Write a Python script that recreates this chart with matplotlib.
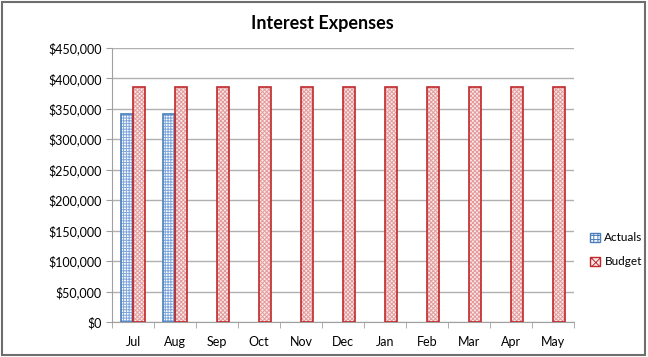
import numpy as np
import matplotlib.pyplot as plt
from matplotlib.patches import Rectangle, Patch
from matplotlib.ticker import FuncFormatter, MultipleLocator

plt.rcParams['font.family'] = ['Lato', 'DejaVu Sans']
plt.rcParams['hatch.linewidth'] = 0.7

months = ['Jul', 'Aug', 'Sep', 'Oct', 'Nov', 'Dec', 'Jan', 'Feb', 'Mar', 'Apr', 'May']
actuals = [342000, 342000, 0, 0, 0, 0, 0, 0, 0, 0, 0]
budget = [385000] * 11

fig = plt.figure(figsize=(6.48, 3.57), dpi=100)
ax = fig.add_axes([0.173, 0.098, 0.713, 0.768])

x = np.arange(len(months))
w = 0.29
act_x = [xi - w / 2 for xi, v in zip(x, actuals) if v > 0]
act_v = [v for v in actuals if v > 0]

# hatched fill, then a solid outline on top
ax.bar(act_x, act_v, w, facecolor='white', edgecolor='#7fa6dc',
       hatch='++++++', linewidth=0, zorder=3)
ax.bar(act_x, act_v, w, fill=False, edgecolor='#4a7ebb', linewidth=1.2, zorder=4)
ax.bar(x + w / 2, budget, w, facecolor='#fbeaea', edgecolor='#e39a9a',
       hatch='xxxxxxxx', linewidth=0, zorder=3)
ax.bar(x + w / 2, budget, w, fill=False, edgecolor='#c0282a', linewidth=1.2, zorder=4)

ax.set_xlim(-0.5, len(months) - 0.5)
ax.set_ylim(0, 450000)
ax.yaxis.set_major_locator(MultipleLocator(50000))
ax.yaxis.set_major_formatter(FuncFormatter(lambda v, p: '${:,.0f}'.format(v)))
ax.grid(axis='y', color='#b0b0b0', linewidth=1.0, zorder=0)
ax.set_axisbelow(True)

ax.set_xticks(x)
ax.set_xticklabels(months)
ax.set_xticks(np.arange(-0.5, len(months)), minor=True)
ax.tick_params(axis='x', which='major', length=0, pad=10, labelsize=9)
ax.tick_params(axis='x', which='minor', length=4, color='#a0a0a0')
ax.tick_params(axis='y', length=4, color='#a0a0a0', labelsize=9)

for s in ['top', 'right']:
    ax.spines[s].set_visible(False)
ax.spines['left'].set_color('#a0a0a0')
ax.spines['bottom'].set_color('#a0a0a0')

fig.text(0.497, 0.935, 'Interest Expenses', ha='center', va='center',
         fontsize=13, fontweight='bold')

handles = [Patch(facecolor='white', edgecolor='#4a7ebb', hatch='++++', linewidth=1),
           Patch(facecolor='#fbeaea', edgecolor='#c0282a', hatch='xxxx', linewidth=1)]
ax.legend(handles, ['Actuals', 'Budget'], loc='center left',
          bbox_to_anchor=(1.035, 0.263), frameon=False, borderpad=0, borderaxespad=0,
          fontsize=8.5, handlelength=0.8, handleheight=0.8, handletextpad=0.4,
          labelspacing=1.1)

fig.patches.append(Rectangle((0.003, 0.006), 0.992, 0.988, transform=fig.transFigure,
                             fill=False, edgecolor='#6e6e6e', linewidth=1.5))

fig.savefig('out.png', dpi=100)
